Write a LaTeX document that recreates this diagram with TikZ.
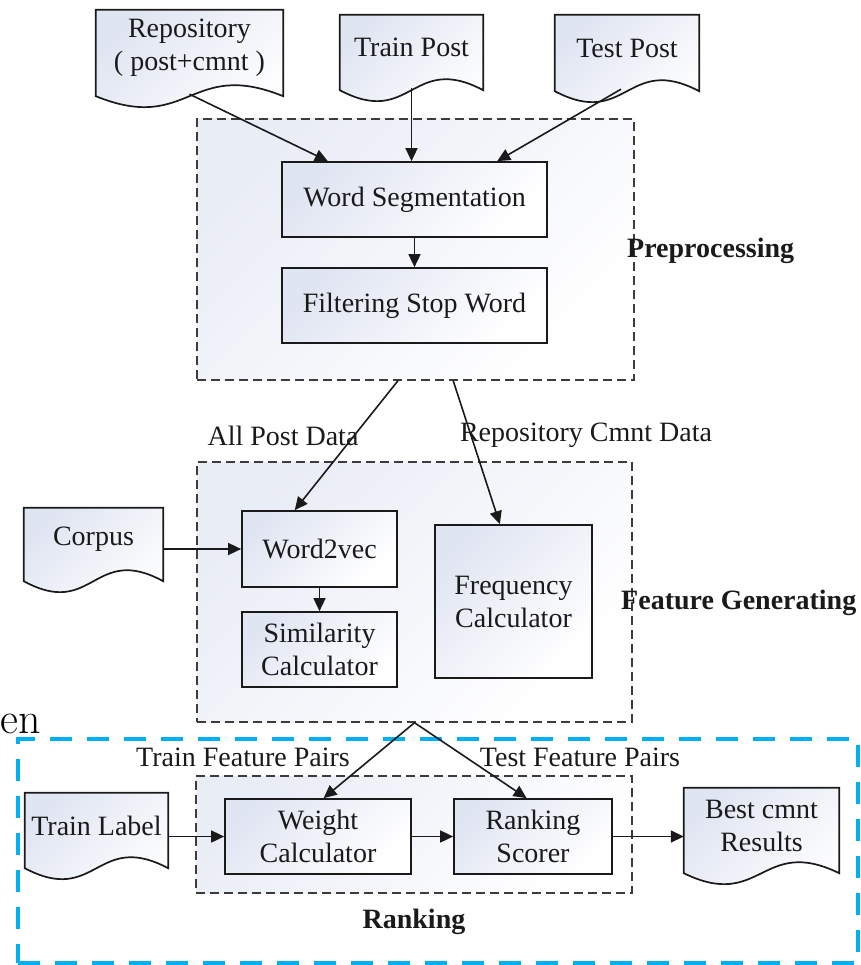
\documentclass[tikz,border=0pt]{standalone}
\usepackage{fontspec}
\newfontfamily\tnr{Liberation Serif}
\usetikzlibrary{arrows.meta,calc}
\pgfdeclarelayer{docs}
\pgfsetlayers{docs,main}
\definecolor{ink}{HTML}{1A1A1A}
\definecolor{shadeblue}{HTML}{E0E5F2}
\definecolor{cyanline}{HTML}{00B0F0}
\tikzset{
 every node/.style={font=\tnr\fontsize{28}{33}\selectfont, text=ink},
 grad/.style={top color=shadeblue, bottom color=white, shading angle=45},
 procbox/.style={draw=ink, line width=1.7pt, grad, align=center, inner sep=0pt},
 docbox/.style={inner sep=0pt, align=center},
 groupbox/.style={draw=ink!85, line width=1.4pt, dash pattern=on 9pt off 5pt, top color=shadeblue!70, bottom color=white, shading angle=45, inner sep=0pt},
 arr/.style={draw=ink, line width=1.6pt, -{Triangle[length=13pt,width=12pt]}},
 lbl/.style={inner sep=0pt},
 blbl/.style={inner sep=0pt, font=\tnr\bfseries\fontsize{28}{33}\selectfont},
}
% document outline: sides run 10pt below the node's south edge, then a wave
\newcommand\docpath[1]{%
 \path[draw=ink, line width=1.7pt, grad] ($(#1.south west)+(0,10)$) -- (#1.north west) -- (#1.north east) -- ($(#1.south east)+(0,10)$)
 .. controls ($(#1.south)+(0,-28)$) and ($(#1.south)+(0,48)$) .. ($(#1.south west)+(0,10)$) -- cycle;}
\begin{document}
\begin{tikzpicture}[x=1pt,y=-1pt]
\useasboundingbox (0,0) rectangle (860,965);
% fragment of surrounding text
\node[anchor=base west, inner sep=0pt, font=\fontsize{44}{48}\selectfont, text=black] (enfrag) at (0,733) {en};
% blue ranking frame
\node[draw=cyanline, line width=4pt, dash pattern=on 22pt off 15pt, minimum width=840pt, minimum height=224pt, inner sep=0pt] (blue) at (438,851) {};
% group boxes
\node[groupbox, minimum width=437pt, minimum height=261pt] (pre) at (415.5,249.5) {};
\node[groupbox, minimum width=435pt, minimum height=260pt] (feat) at (414.5,592) {};
\node[groupbox, minimum width=436pt, minimum height=117pt] (rank) at (414,834.5) {};
% documents (node spans top edge to 10pt above the side ends)
\node[docbox, minimum width=187pt, minimum height=76pt] (repo) at (189.5,48) {Repository\\( post+cmnt )};
\node[docbox, minimum width=143pt, minimum height=65pt] (trainpost) at (411.5,47.5) {Train Post};
\node[docbox, minimum width=144pt, minimum height=66pt] (testpost) at (627,48) {Test Post};
\node[docbox, minimum width=139pt, minimum height=63pt] (corpus) at (93.5,539.5) {Corpus};
\node[docbox, minimum width=143pt, minimum height=65pt] (trainlabel) at (96.5,825.5) {Train Label};
\node[docbox, minimum width=155pt, minimum height=75pt] (best) at (761.5,825.5) {Best cmnt\\Results};
\begin{pgfonlayer}{docs}
\docpath{repo}
\docpath{trainpost}
\docpath{testpost}
\docpath{corpus}
\docpath{trainlabel}
\docpath{best}
\end{pgfonlayer}
% process boxes
\node[procbox, minimum width=265pt, minimum height=75pt] (ws) at (414.5,199.5) {Word Segmentation};
\node[procbox, minimum width=265pt, minimum height=75pt] (fsw) at (414.5,305.5) {Filtering Stop Word};
\node[procbox, minimum width=155pt, minimum height=76pt] (w2v) at (319.5,549) {Word2vec};
\node[procbox, minimum width=155pt, minimum height=75pt] (sim) at (319.5,649.5) {Similarity\\Calculator};
\node[procbox, minimum width=157pt, minimum height=153pt] (freq) at (513.5,601.5) {Frequency\\Calculator};
\node[procbox, minimum width=186pt, minimum height=75pt] (wc) at (318,836.5) {Weight\\Calculator};
\node[procbox, minimum width=158pt, minimum height=75pt] (rs) at (533,836.5) {Ranking\\Scorer};
% labels
\node[blbl, anchor=west] (lpre) at (627,251) {Preprocessing};
\node[blbl, anchor=west] (lfeat) at (621,603) {Feature Generating};
\node[blbl] (lrank) at (414,922) {Ranking};
\node[lbl] (lall) at (283,436) {All Post Data};
\node[lbl] (lrep) at (586,435) {Repository Cmnt Data};
\node[lbl] (ltrain) at (243,757) {Train Feature Pairs};
\node[lbl] (ltest) at (580,757) {Test Feature Pairs};
% connectors
\draw[arr] ($(repo.south)+(0,8)$) -- ($(ws.north west)!0.175!(ws.north east)$);
\draw[arr] ($(trainpost.south)+(0,8)$) -- (trainpost.south |- ws.north);
\draw[arr] ($(testpost.south)+(-6,8)$) -- ($(ws.north west)!0.81!(ws.north east)$);
\draw[arr] (ws) -- (fsw);
\draw[arr] ($(pre.south west)!0.46!(pre.south east)$) -- ($(w2v.north west)!0.342!(w2v.north east)$);
\draw[arr] ($(pre.south west)!0.586!(pre.south east)$) -- ($(freq.north west)!0.414!(freq.north east)$);
\draw[arr] (corpus.east |- w2v.west) -- (w2v.west);
\draw[arr] (w2v) -- (sim);
\draw[arr] (feat.south) -- ($(wc.north west)!0.53!(wc.north east)$);
\draw[arr] (feat.south) -- ($(rs.north west)!0.46!(rs.north east)$);
\draw[arr] (trainlabel.east |- wc.west) -- (wc.west);
\draw[arr] (wc) -- (rs);
\draw[arr] (rs.east) -- (rs.east -| best.west);
\end{tikzpicture}
\end{document}
